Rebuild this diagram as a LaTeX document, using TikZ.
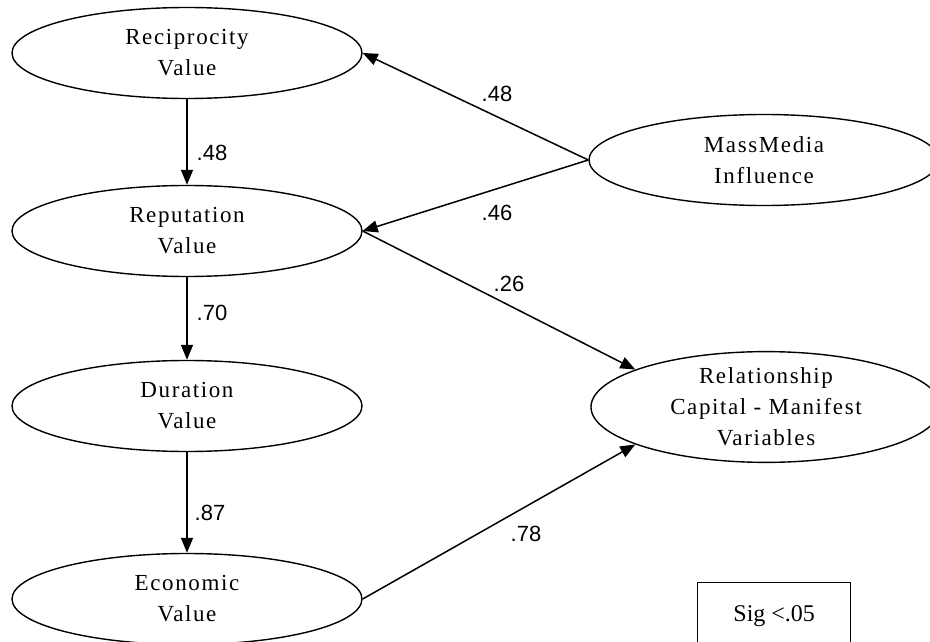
\documentclass[tikz,border=0pt]{standalone}
\usepackage{fontspec}
\setmainfont{Liberation Serif}
\newfontfamily\labelfont{Liberation Sans}
\newfontfamily\latentfont[LetterSpace=7]{Liberation Serif}
\usetikzlibrary{shapes.geometric,arrows.meta}

\tikzset{
  latent/.style={ellipse, draw, line width=1.4pt, minimum width=350pt,
    minimum height=91pt, inner sep=0pt, align=center,
    font=\latentfont\fontsize{23}{31}\selectfont},
  path/.style={line width=1.5pt, -{Triangle[length=15pt,width=12pt]}},
  coef/.style={font=\labelfont\fontsize{22}{24}\selectfont, inner sep=0pt},
  legend/.style={draw, line width=1.4pt, minimum width=153pt, minimum height=66pt,
    inner sep=0pt, font=\fontsize{24}{28}\selectfont}
}

\begin{document}
\begin{tikzpicture}[x=1pt,y=-1pt]
  \useasboundingbox (0,0) rectangle (930,642);
  \clip (0,0) rectangle (930,642);

  % latent constructs, left column
  \node[latent] (rec) at (187,53)  {Reciprocity\\Value};
  \node[latent] (rep) at (187,231) {Reputation\\Value};
  \node[latent] (dur) at (187,406) {Duration\\Value};
  \node[latent] (eco) at (187,599) {Economic\\Value};

  % right column
  \node[latent] (mm)  at (764,160) {MassMedia\\Influence};
  \node[latent] (rel) at (766,407) {Relationship\\Capital - Manifest\\Variables};

  % significance legend
  \node[legend, anchor=north west] (sig) at (697,582) {Sig <.05};

  % structural paths
  \draw[path] (rec.south) -- (rep.north);
  \draw[path] (rep.south) -- (dur.north);
  \draw[path] (dur.south) -- (eco.north);
  \draw[path] (mm.west) -- (rec.east);
  \draw[path] (mm.west) -- (rep.east);
  \draw[path] (rep.east) -- (rel.164);
  \draw[path] (eco.east) -- (rel.196);

  % path coefficients
  \node[coef] (c1) at (212,153) {.48};
  \node[coef] (c2) at (212,313) {.70};
  \node[coef] (c3) at (210,513) {.87};
  \node[coef] (c4) at (497,94)  {.48};
  \node[coef] (c5) at (497,213) {.46};
  \node[coef] (c6) at (509,284) {.26};
  \node[coef] (c7) at (526,534) {.78};
\end{tikzpicture}
\end{document}
